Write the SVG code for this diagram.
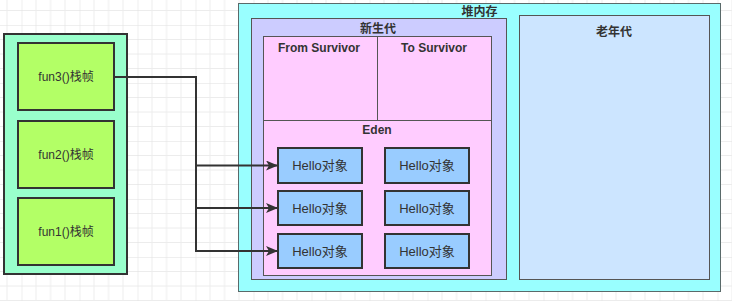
<svg xmlns="http://www.w3.org/2000/svg" width="732" height="301" viewBox="0 0 732 301">
  <defs>
    <pattern id="grid" x="21.5" y="25" width="58" height="58" patternUnits="userSpaceOnUse">
      <path d="M14.5 0V58M29 0V58M43.5 0V58M0 14.5H58M0 29H58M0 43.5H58" fill="none" stroke="#ececec" stroke-width="1"/>
      <path d="M0 0V58M0 0H58" fill="none" stroke="#e0e0e0" stroke-width="1"/>
    </pattern>
    <marker id="arrow" viewBox="0 0 12 10" refX="11" refY="5" markerWidth="12" markerHeight="10" markerUnits="userSpaceOnUse" orient="auto">
      <path d="M0 0L12 5L0 10L3 5Z" fill="#333333"/>
    </marker>
    <style>
      .lbl { font-family: "Liberation Sans", "Noto Sans CJK SC", sans-serif; fill: #333333; text-anchor: middle; }
      .b { font-weight: bold; font-size: 12px; }
      .frame rect { fill: #B3FF66; stroke: #333333; stroke-width: 2; }
      .frame text { font-size: 12px; dominant-baseline: central; }
      .obj rect { fill: #99CCFF; stroke: #333333; stroke-width: 2; }
      .obj text { font-size: 13px; dominant-baseline: central; }
      .conn { fill: none; stroke: #333333; stroke-width: 2; marker-end: url(#arrow); }
    </style>
  </defs>
  <rect width="732" height="301" fill="#ffffff"/>
  <rect width="732" height="301" fill="url(#grid)"/>

  <g id="stack">
    <rect x="4" y="34" width="123" height="240" fill="#99FFCC" stroke="#333333" stroke-width="2"/>
  </g>
  <g id="fun3" class="frame">
    <rect x="18" y="43" width="96" height="67"/>
    <text class="lbl" x="66" y="77">fun3()栈帧</text>
  </g>
  <g id="fun2" class="frame">
    <rect x="18" y="121" width="96" height="67"/>
    <text class="lbl" x="66" y="154.5">fun2()栈帧</text>
  </g>
  <g id="fun1" class="frame">
    <rect x="18" y="198" width="96" height="67"/>
    <text class="lbl" x="66" y="231.5">fun1()栈帧</text>
  </g>

  <g id="heap">
    <rect x="238.5" y="3.5" width="482" height="288" fill="#99FFFF" stroke="#5a6a6a" stroke-width="1"/>
    <text class="lbl b" x="479.5" y="16">堆内存</text>
  </g>
  <g id="young">
    <rect x="251.5" y="18.5" width="255" height="261" fill="#CCCCFF" stroke="#555555" stroke-width="1"/>
    <text class="lbl b" x="378" y="33">新生代</text>
  </g>
  <g id="from-survivor">
    <rect x="263.5" y="36.5" width="114" height="84" fill="#FFCCFF" stroke="#555555" stroke-width="1"/>
    <text class="lbl b" x="319" y="52">From Survivor</text>
  </g>
  <g id="to-survivor">
    <rect x="377.5" y="36.5" width="114" height="84" fill="#FFCCFF" stroke="#555555" stroke-width="1"/>
    <text class="lbl b" x="434" y="52">To Survivor</text>
  </g>
  <g id="eden">
    <rect x="263.5" y="120.5" width="228" height="155" fill="#FFCCFF" stroke="#555555" stroke-width="1"/>
    <text class="lbl b" x="377" y="134">Eden</text>
  </g>
  <g id="old">
    <rect x="519.5" y="15.5" width="190" height="264" fill="#CCE5FF" stroke="#555555" stroke-width="1"/>
    <text class="lbl b" x="614" y="36">老年代</text>
  </g>

  <g id="hello1" class="obj">
    <rect x="278" y="148" width="84" height="35"/>
    <text class="lbl" x="320" y="165.5">Hello对象</text>
  </g>
  <g id="hello2" class="obj">
    <rect x="385" y="148" width="84" height="35"/>
    <text class="lbl" x="427" y="165.5">Hello对象</text>
  </g>
  <g id="hello3" class="obj">
    <rect x="278" y="191" width="84" height="34"/>
    <text class="lbl" x="320" y="208">Hello对象</text>
  </g>
  <g id="hello4" class="obj">
    <rect x="385" y="191" width="84" height="34"/>
    <text class="lbl" x="427" y="208">Hello对象</text>
  </g>
  <g id="hello5" class="obj">
    <rect x="278" y="234" width="84" height="34"/>
    <text class="lbl" x="320" y="251">Hello对象</text>
  </g>
  <g id="hello6" class="obj">
    <rect x="385" y="234" width="84" height="34"/>
    <text class="lbl" x="427" y="251">Hello对象</text>
  </g>

  <g id="connectors">
    <path class="conn" d="M114 77H196V165.5H277"/>
    <path class="conn" d="M114 77H196V208H277"/>
    <path class="conn" d="M114 77H196V251H277"/>
  </g>
</svg>
